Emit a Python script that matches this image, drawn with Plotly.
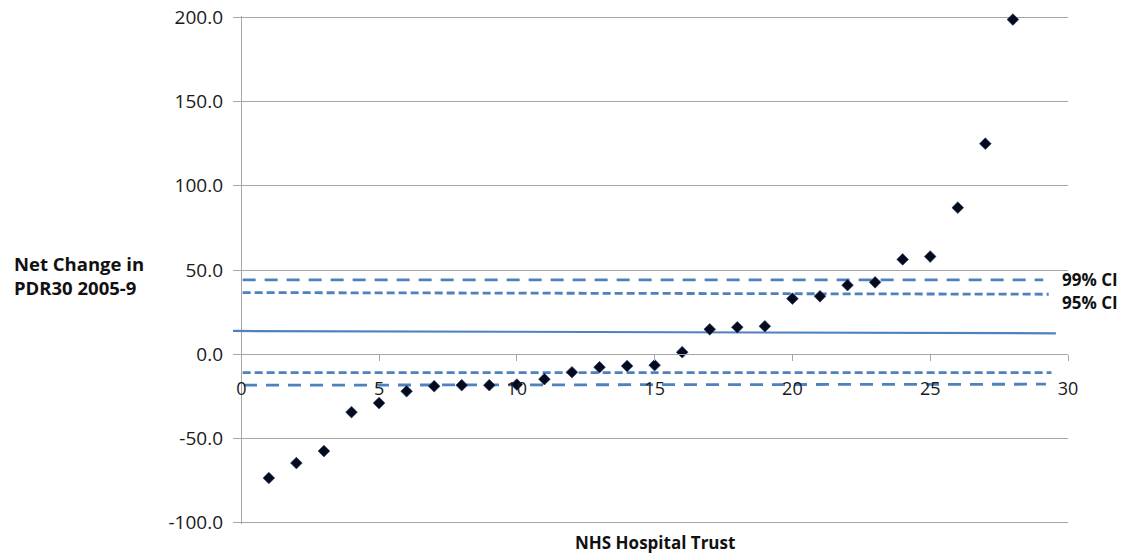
import plotly.graph_objects as go

# Data
trust = list(range(1, 29))
net_change = [-73.5, -64.6, -57.5, -34.4, -29.0, -22.0, -19.0, -18.4, -18.4, -18.0,
              -14.8, -10.7, -7.7, -7.0, -6.5, 1.2, 14.8, 16.0, 16.6, 33.0,
              34.4, 41.0, 42.7, 56.3, 58.0, 87.0, 125.0, 198.7]

# Reference lines (start/end points)
mean_x = [-0.3, 29.56]
mean_y = [13.8, 12.4]
ci99_up_x = [0.05, 29.1]
ci99_up_y = [44.1, 44.1]
ci95_up_x = [0.05, 29.3]
ci95_up_y = [36.6, 35.6]
ci95_lo_x = [0.05, 29.4]
ci95_lo_y = [-10.9, -10.9]
ci99_lo_x = [0.1, 29.2]
ci99_lo_y = [-18.4, -17.8]

ci_labels = ["99% CI", "95% CI"]
ci_label_y = [44.3, 30.6]

x_ticks = [0, 5, 10, 15, 20, 25, 30]
y_ticks = [-100, -50, 0, 50, 100, 150, 200]
y_tick_text = ["-100.0", "-50.0", "0.0", "50.0", "100.0", "150.0", "200.0"]

blue = "#4f81bd"
grid = "#a6a6a6"
font = "Open Sans"

W, H = 1124, 554
ML, MR, MT, MB = 233, 56, 16, 30

fig = go.Figure()

fig.add_trace(go.Scatter(x=mean_x, y=mean_y, mode="lines",
                         line=dict(color=blue, width=2.2), hoverinfo="skip"))
long_dash = "13px,9px"
short_dash = "8px,4px"
fig.add_trace(go.Scatter(x=ci99_up_x, y=ci99_up_y, mode="lines",
                         line=dict(color=blue, width=2.8, dash=long_dash)))
fig.add_trace(go.Scatter(x=ci95_up_x, y=ci95_up_y, mode="lines",
                         line=dict(color=blue, width=2.8, dash=short_dash)))
fig.add_trace(go.Scatter(x=ci95_lo_x, y=ci95_lo_y, mode="lines",
                         line=dict(color=blue, width=2.8, dash=short_dash)))
fig.add_trace(go.Scatter(x=ci99_lo_x, y=ci99_lo_y, mode="lines",
                         line=dict(color=blue, width=2.8, dash=long_dash)))

fig.add_trace(go.Scatter(x=trust, y=net_change, mode="markers", cliponaxis=False,
                         marker=dict(symbol="diamond", size=9, color="#050a1e",
                                     line=dict(color="#1f3a66", width=0.6))))

y_lo, y_hi = -100.8, 200.8
fig.update_layout(
    width=W, height=H,
    margin=dict(l=ML, r=MR, t=MT, b=MB, autoexpand=False),
    paper_bgcolor="white", plot_bgcolor="white",
    showlegend=False,
    font=dict(family=font, color="#1a1a1a"),
    xaxis=dict(range=[-0.3, 30], tickvals=x_ticks, showgrid=False, automargin=False,
               zeroline=True, zerolinecolor=grid, zerolinewidth=1.3,
               anchor="free", position=(0 - y_lo) / (y_hi - y_lo),
               showline=True, linecolor=grid, linewidth=1.3,
               ticks="outside", ticklen=6, tickcolor=grid, tickwidth=1.3,
               ticklabelstandoff=12, tickfont=dict(size=18, family=font, color="#1a1a1a")),
    yaxis=dict(range=[y_lo, y_hi], tickvals=y_ticks, ticktext=y_tick_text, automargin=False,
               showgrid=True, gridcolor=grid, gridwidth=1.3, zeroline=False,
               showline=False, ticks="", ticklabelstandoff=9,
               tickfont=dict(size=19, family=font, color="#1a1a1a")),
)

pw = W - ML - MR
ph = H - MT - MB
fig.add_annotation(x=(12 - ML) / pw, y=(H - MB - 275) / ph, xref="paper", yref="paper",
                   text="<b>Net Change in<br>PDR30 2005-9</b>",
                   showarrow=False, xanchor="left", yanchor="middle", align="left",
                   font=dict(size=18.5, family=font, color="#111"))
for label, ly in zip(ci_labels, ci_label_y):
    fig.add_annotation(x=29.72, y=ly, xref="x", yref="y", text=f"<b>{label}</b>",
                       showarrow=False, xanchor="left", yanchor="middle",
                       font=dict(size=17, family=font, color="#111"))
fig.add_annotation(x=15, y=-100, xref="x", yref="y", yshift=-20, text="<b>NHS Hospital Trust</b>",
                   showarrow=False, xanchor="center", yanchor="middle",
                   font=dict(size=17, family=font, color="#111"))

fig.write_html("out.html", config={"displayModeBar": False},
               post_script="document.body.style.margin='0';document.body.style.overflow='hidden';")
